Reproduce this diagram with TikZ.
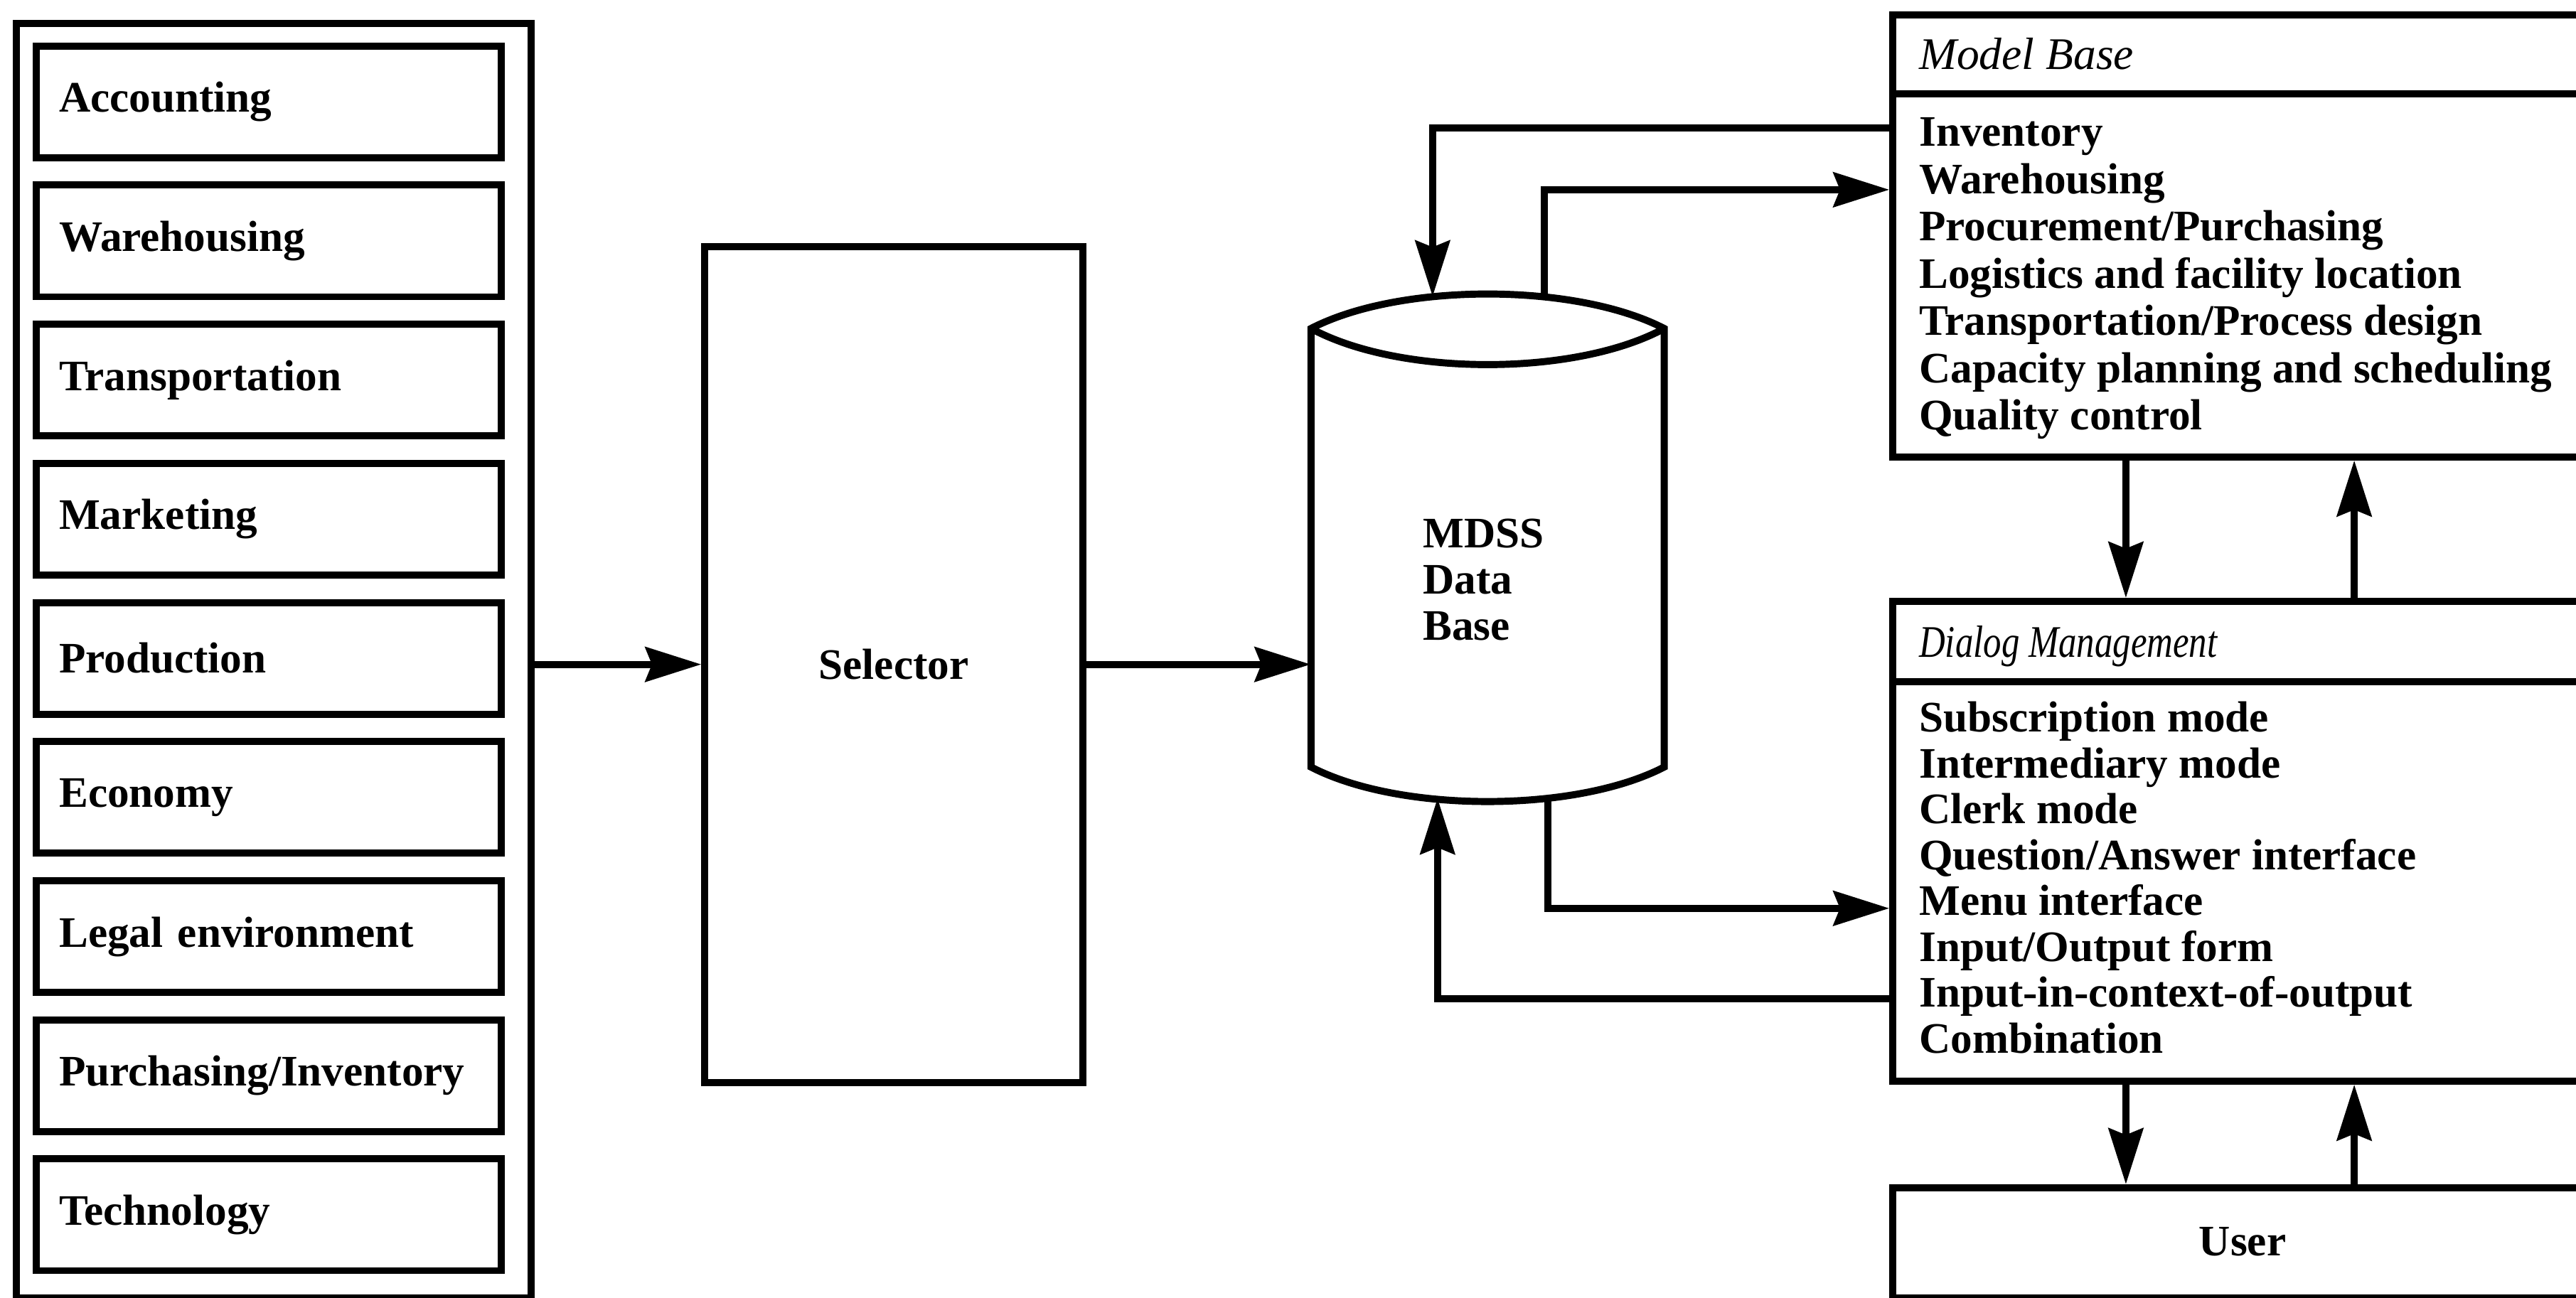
\documentclass[tikz,border=0pt]{standalone}
\usepackage{fontspec}
\setmainfont{Liberation Serif}
\newfontfamily\narrowserif[FakeStretch=0.8]{Liberation Serif}
\usetikzlibrary{arrows.meta,calc}
\begin{document}
\begin{tikzpicture}[x=1pt,y=-1pt,
  lw/.style={line width=4.3pt},
  frame/.style={draw,lw,inner sep=0pt},
  bigtext/.style={font=\bfseries\fontsize{26.5}{28}\selectfont},
  srcbox/.style={frame,bigtext,minimum width=283pt,minimum height=68pt,
    inner xsep=14pt,text width=255pt,align=left},
  rowtext/.style={bigtext,anchor=base west,inner sep=0pt},
  ttl/.style={anchor=base west,inner sep=0pt},
  conn/.style={lw,-{Stealth[length=34pt,width=21pt,inset=4pt]}}]

\useasboundingbox (0,0) rectangle (1568,790);

% ---- information sources ----
\node[frame,minimum width=313pt,minimum height=776pt,anchor=north west] (src) at (8,12) {};
\foreach \t [count=\i from 0] in {Accounting,Warehousing,Transportation,Marketing,
    Production,Economy,Legal environment,Purchasing/Inventory,Technology}
  \node[srcbox] (s\i) at (163.5,{62+84.7*\i}) {\t};

% ---- selector ----
\node[frame,bigtext,minimum width=230pt,minimum height=509pt] (sel) at (544,404.5) {Selector};

% ---- data base cylinder ----
\node[minimum width=215pt,minimum height=300pt,inner sep=0pt] (db) at (905.5,333) {};
\draw[lw,fill=white] (798,200) .. controls (852,172) and (959,172) .. (1013,200)
  -- (1013,467) .. controls (959,495) and (852,495) .. (798,467) -- cycle;
\draw[lw] (798,200) .. controls (852,229.3) and (959,229.3) .. (1013,200);
\node[bigtext,align=left,anchor=west,inner sep=0pt] (dbtxt) at (866,353) {MDSS\\Data\\Base};
\coordinate (dbT1) at (872,180.5);
\coordinate (dbT2) at (940,180.5);
\coordinate (dbB1) at (875,486);
\coordinate (dbB2) at (942,486);

% ---- model base ----
\node[frame,minimum width=450pt,minimum height=269pt,anchor=north west] (mb) at (1150,7) {};
\draw[lw] ($(mb.north west)+(0,50)$) -- ($(mb.north east)+(0,50)$);
\node[ttl,font=\itshape\fontsize{27.5}{30}\selectfont] (mbt) at (1168,42) {Model Base};
\foreach \t [count=\i from 0] in {Inventory,Warehousing,Procurement/Purchasing,
    Logistics and facility location,Transportation/Process design,
    Capacity planning and scheduling,Quality control}
  \node[rowtext] (m\i) at (1168,{89+28.8*\i}) {\t};

% ---- dialog management ----
\node[frame,minimum width=450pt,minimum height=292pt,anchor=north west] (dm) at (1150,364) {};
\draw[lw] ($(dm.north west)+(0,51)$) -- ($(dm.north east)+(0,51)$);
\node[ttl,font=\narrowserif\itshape\fontsize{27.5}{30}\selectfont] (dmt) at (1168,400) {Dialog Management};
\foreach \t [count=\i from 0] in {Subscription mode,Intermediary mode,Clerk mode,
    Question/Answer interface,Menu interface,Input/Output form,
    Input-in-context-of-output,Combination}
  \node[rowtext] (d\i) at (1168,{445.7+27.9*\i}) {\t};

% ---- user ----
\node[frame,minimum width=450pt,minimum height=67pt,anchor=north west] (usr) at (1150,721) {};
\node[bigtext,inner sep=0pt] (usrt) at (1365,756) {User};

% ---- connectors ----
\draw[conn] (src.east |- sel.west) -- (sel.west);
\draw[conn] (sel.east) -- (sel.east -| db.west);

\coordinate (mbA) at ($(mb.north west)+(0,71)$);
\coordinate (mbB) at ($(mb.north west)+(0,108.5)$);
\coordinate (dmA) at ($(dm.north west)+(0,189)$);
\coordinate (dmB) at ($(dm.north west)+(0,244)$);
\draw[conn] (mbA) -| (dbT1);
\draw[conn] (dbT2) |- (mbB);
\draw[conn] (dbB2) |- (dmA);
\draw[conn] (dmB) -| (dbB1);

\draw[conn] ($(mb.south west)+(144,0)$) -- ($(dm.north west)+(144,0)$);
\draw[conn] ($(dm.north west)+(283,0)$) -- ($(mb.south west)+(283,0)$);
\draw[conn] ($(dm.south west)+(144,0)$) -- ($(usr.north west)+(144,0)$);
\draw[conn] ($(usr.north west)+(283,0)$) -- ($(dm.south west)+(283,0)$);
\end{tikzpicture}
\end{document}
